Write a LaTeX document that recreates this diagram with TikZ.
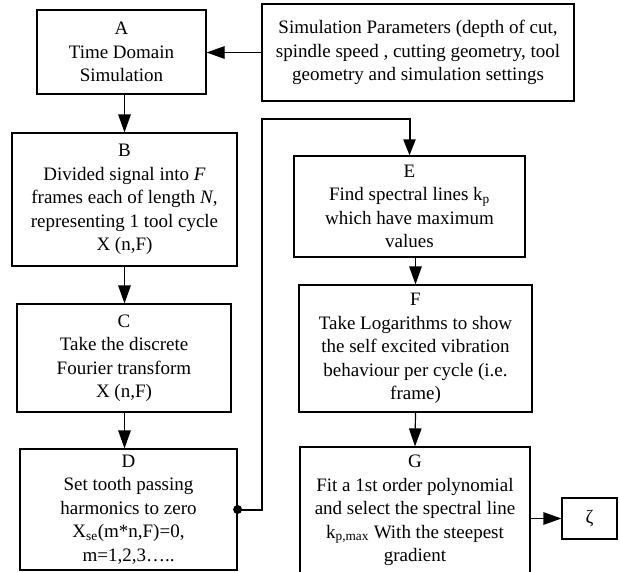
\documentclass[tikz,border=0pt]{standalone}
\usepackage{fontspec}
\setmainfont{Liberation Serif}
\usetikzlibrary{arrows.meta,calc}
\tikzset{
  box/.style={draw, line width=1.2pt, inner sep=0pt, align=center,
    font=\fontsize{19}{23.5}\selectfont},
  conn/.style={line width=1.2pt, -{Triangle[length=18pt,width=12.5pt]}},
  thickconn/.style={line width=2pt, -{Triangle[length=16pt,width=12pt]}},
}
\begin{document}
\begin{tikzpicture}[x=1pt,y=-1pt]
\useasboundingbox (0,0) rectangle (620,571);
\clip (0,0) rectangle (620,571);
\node[box, minimum width=169pt, minimum height=84pt] (A) at (121.5,52)
  {A\\Time Domain\\Simulation};
\node[box, minimum width=312pt, minimum height=97pt] (S) at (418,52.5)
  {Simulation Parameters (depth of cut,\\spindle speed , cutting geometry, tool\\geometry and simulation settings};
\node[box, minimum width=225pt, minimum height=133pt] (B) at (124.5,199.5)
  {B\\Divided signal into \textit{F}\\frames each of length \textit{N},\\representing 1 tool cycle\\X (n,F)};
\node[box, minimum width=214pt, minimum height=108pt] (C) at (124,358)
  {C\\Take the discrete\\Fourier transform\\X (n,F)};
\node[box, minimum width=217pt, minimum height=121pt] (D) at (128.5,509.5)
  {D\\Set tooth passing\\harmonics to zero\\X\textsubscript{se}(m*n,F)=0,\\m=1,2,3\dots..};
\node[box, minimum width=231pt, minimum height=101pt] (E) at (409.5,206.5)
  {E\\Find spectral lines k\textsubscript{p}\\which have maximum\\values};
\node[box, minimum width=233pt, minimum height=127pt] (F) at (415.5,348.5)
  {F\\Take Logarithms to show\\the self excited vibration\\behaviour per cycle (i.e.\\frame)};
\node[box, minimum width=230pt, minimum height=127pt] (G) at (415,510.5)
  {G\\Fit a 1st order polynomial\\and select the spectral line\\k\textsubscript{p,max} With the steepest\\gradient};
\node[box, minimum width=55pt, minimum height=41pt] (Z) at (589.5,518.5) {ζ};
\coordinate (j1) at (262,119);
\draw[conn] (S.west) -- (S.west -| A.east);
\draw[conn] (A.south -| B.north) -- (B.north);
\draw[conn] (B.south) -- (B.south |- C.north);
\draw[conn] (B.south |- C.south) -- (B.south |- D.north);
\draw[thickconn] (D.east) -| (j1) -| (E.north);
\fill (D.east) circle (4.5pt);
\draw[conn] (F.north |- E.south) -- (F.north);
\draw[conn] (F.south) -- (G.north);
\draw[conn] (G.east |- Z.west) -- (Z.west);
\end{tikzpicture}
\end{document}
